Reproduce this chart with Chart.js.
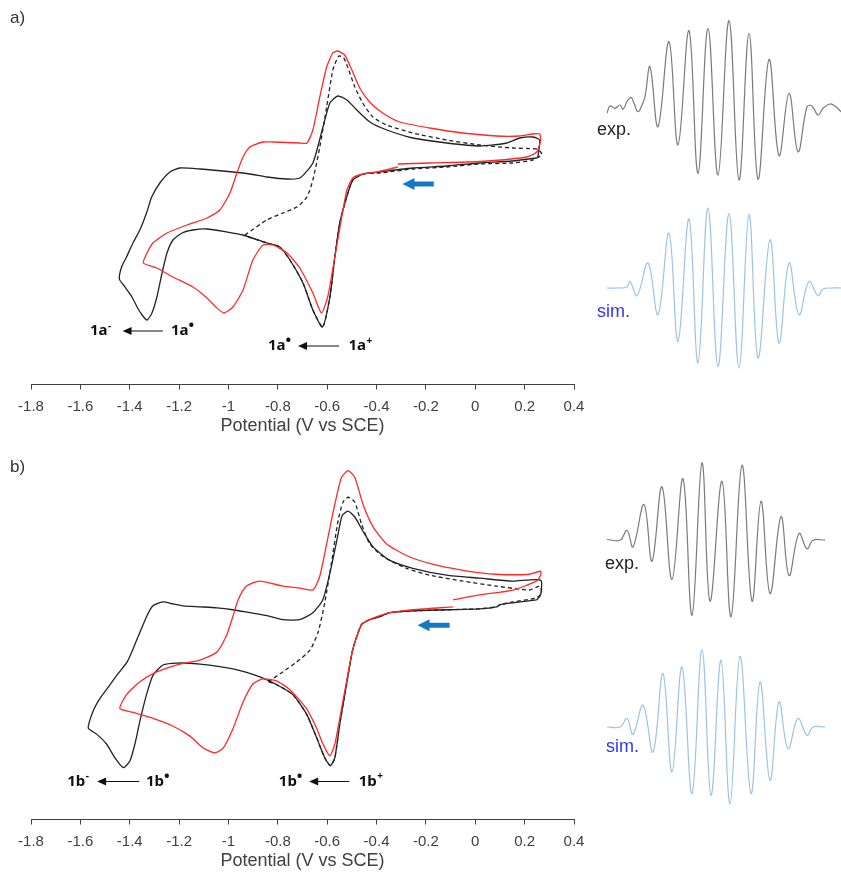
<!DOCTYPE html>
<html>
<head>
<meta charset="utf-8">
<script src="https://cdn.jsdelivr.net/npm/chart.js@4.4.1/dist/chart.umd.min.js"></script>
<style>
  body { margin: 0; background: #fff; }
  #wrap { position: relative; width: 841px; height: 873px; overflow: hidden; font-family: "Liberation Sans", Arial, sans-serif; }
  canvas, .lbl { position: absolute; }
  .lbl { line-height: 1; white-space: nowrap; }
  .panel { font-size: 17px; color: #333; }
  .exp { font-size: 18px; color: #222; }
  .sim { font-size: 18px; color: #3333ff; }
</style>
</head>
<body>
<div id="wrap">
  <canvas id="cvA" width="600" height="440" style="left:0;top:0"></canvas>
  <canvas id="cvB" width="600" height="435" style="left:0;top:440px"></canvas>
  <canvas id="expA" width="234" height="200" style="left:607px;top:12px"></canvas>
  <canvas id="simA" width="234" height="200" style="left:607px;top:188px"></canvas>
  <canvas id="expB" width="234" height="200" style="left:607px;top:440px"></canvas>
  <canvas id="simB" width="234" height="200" style="left:607px;top:627px"></canvas>
  <div class="lbl panel" style="left:10px;top:9px">a)</div>
  <div class="lbl panel" style="left:10px;top:458px">b)</div>
  <div class="lbl exp" style="left:597px;top:120px">exp.</div>
  <div class="lbl sim" style="left:597px;top:302px">sim.</div>
  <div class="lbl exp" style="left:605px;top:554px">exp.</div>
  <div class="lbl sim" style="left:606px;top:737px">sim.</div>
</div>
<script>
// potential in V vs SCE, current in arbitrary units (cathodic down)
const aSolidE = [0.249,0.151,0.018,-0.116,-0.253,-0.387,-0.455,-0.496,-0.521,-0.549,-0.569,-0.589,-0.619,-0.658,-0.698,-0.751,-0.792,-0.844,-0.941,-1.006,-1.087,-1.144,-1.188,-1.225,-1.249,-1.269,-1.290,-1.310,-1.330,-1.350,-1.370,-1.391,-1.419,-1.442,-1.433,-1.413,-1.387,-1.359,-1.332,-1.311,-1.278,-1.237,-1.197,-1.115,-0.982,-0.913,-0.844,-0.763,-0.711,-0.658,-0.617,-0.589,-0.557,-0.520,-0.480,-0.427,-0.358,-0.253,-0.116,0.018,0.128,0.180,0.233,0.261,0.253];
const aSolidI = [4.2,3.9,3.7,3.4,3.2,2.8,2.6,2.0,0.3,-2.3,-5.7,-9.7,-12.7,-11.0,-8.3,-6.0,-4.7,-4.3,-3.5,-3.2,-2.9,-3.0,-3.3,-4.0,-5.3,-7.3,-9.7,-11.3,-12.0,-11.5,-10.7,-9.7,-8.7,-7.9,-6.7,-5.7,-4.3,-3.0,-1.3,0.3,1.7,2.8,3.2,3.1,2.8,2.6,2.3,2.1,2.2,3.7,7.3,9.7,10.4,10.0,9.0,7.8,7.0,6.2,5.7,5.4,5.7,6.2,6.3,6.0,4.2];

const aRedE = [-0.314,-0.185,0.018,0.208,0.249,0.265,0.261,0.232,0.180,0.087,-0.051,-0.185,-0.306,-0.375,-0.428,-0.468,-0.500,-0.529,-0.557,-0.577,-0.602,-0.630,-0.658,-0.682,-0.711,-0.820,-0.860,-0.913,-0.941,-0.966,-0.994,-1.035,-1.087,-1.168,-1.249,-1.306,-1.330,-1.345,-1.290,-1.225,-1.144,-1.087,-1.047,-1.018,-0.982,-0.941,-0.901,-0.860,-0.820,-0.763,-0.711,-0.658,-0.623,-0.598,-0.569,-0.541,-0.520,-0.496,-0.456,-0.399,-0.314];
const aRedI = [3.6,3.7,3.85,4.3,4.8,6.0,6.6,6.6,6.4,6.4,6.7,7.2,7.8,8.7,9.8,11.2,13.0,14.5,14.9,14.7,13.3,10.3,7.0,5.7,5.7,5.8,5.8,5.3,4.3,2.7,0.7,-1.0,-1.8,-2.5,-3.3,-4.3,-5.3,-6.3,-6.8,-7.7,-8.7,-9.8,-10.8,-11.3,-10.7,-9.0,-6.0,-4.5,-4.5,-5.3,-6.8,-9.3,-11.3,-9.7,-5.7,-1.7,1.0,2.2,2.6,2.8,3.3];

const aDashE = [-0.933,-0.845,-0.780,-0.723,-0.682,-0.658,-0.630,-0.602,-0.577,-0.553,-0.533,-0.517,-0.488,-0.456,-0.415,-0.359,-0.253,-0.116,0.018,0.151,0.249,0.265,0.269,0.232,0.151,0.018,-0.116,-0.253,-0.387,-0.456,-0.496,-0.521,-0.549,-0.569,-0.589,-0.618,-0.658,-0.698,-0.751,-0.792,-0.844,-0.933];
const aDashI = [-3.5,-2.0,-1.3,-0.7,0.3,2.0,5.3,9.3,13.0,14.4,14.2,13.3,11.3,9.7,8.3,7.5,6.7,6.0,5.5,5.2,5.1,4.8,4.5,4.0,3.7,3.6,3.3,3.1,2.7,2.6,2.0,0.3,-2.3,-5.7,-9.7,-12.7,-11.0,-8.3,-6.0,-4.7,-4.3,-3.6];

const bSolidE = [0.249,0.151,0.099,0.087,0.018,-0.116,-0.253,-0.346,-0.387,-0.428,-0.461,-0.496,-0.522,-0.549,-0.569,-0.587,-0.610,-0.642,-0.683,-0.739,-0.804,-0.873,-0.982,-1.115,-1.210,-1.265,-1.305,-1.332,-1.359,-1.379,-1.399,-1.426,-1.460,-1.494,-1.534,-1.568,-1.549,-1.521,-1.480,-1.448,-1.411,-1.387,-1.359,-1.330,-1.306,-1.266,-1.225,-1.185,-1.115,-1.047,-0.982,-0.913,-0.844,-0.780,-0.711,-0.658,-0.618,-0.589,-0.561,-0.540,-0.516,-0.488,-0.456,-0.415,-0.346,-0.253,-0.116,0.018,0.151,0.265,0.265,0.249];
const bSolidI = [3.8,3.5,3.3,3.1,2.9,2.8,2.7,2.5,2.1,1.8,1.3,-1.2,-4.8,-8.8,-12.2,-13.0,-12.2,-10.2,-7.8,-5.8,-4.8,-4.0,-3.2,-2.7,-2.6,-2.8,-3.8,-5.8,-8.5,-10.8,-12.5,-13.2,-12.2,-10.8,-9.8,-9.2,-7.5,-6.2,-4.8,-3.7,-2.5,-1.2,0.5,2.2,3.2,3.6,3.4,3.2,3.1,3.0,2.8,2.5,2.2,1.8,1.8,2.5,3.8,6.5,9.8,12.3,12.8,12.2,10.8,9.2,7.8,7.0,6.3,6.0,5.7,5.8,4.3,3.8];

const bRedE = [-0.090,0.018,0.153,0.247,0.265,0.265,0.220,0.085,-0.050,-0.185,-0.279,-0.360,-0.414,-0.455,-0.488,-0.515,-0.542,-0.569,-0.602,-0.630,-0.658,-0.711,-0.780,-0.873,-0.927,-0.961,-0.981,-1.008,-1.048,-1.116,-1.197,-1.291,-1.359,-1.413,-1.440,-1.386,-1.305,-1.224,-1.156,-1.102,-1.055,-1.021,-0.981,-0.940,-0.900,-0.860,-0.806,-0.751,-0.684,-0.643,-0.617,-0.589,-0.569,-0.549,-0.522,-0.496,-0.461,-0.428,-0.387,-0.346,-0.253,-0.090];
const bRedI = [3.8,4.3,4.8,5.7,6.3,6.7,6.4,6.4,6.8,7.5,8.3,9.5,11.2,13.5,16.2,16.9,16.2,13.5,9.5,6.2,4.8,5.0,5.2,5.7,5.2,3.8,2.2,0.2,-1.5,-2.3,-2.7,-3.5,-4.5,-5.8,-7.2,-7.6,-8.2,-9.0,-10.0,-11.2,-11.7,-11.2,-9.2,-6.5,-4.7,-4.2,-4.4,-5.3,-7.2,-9.2,-10.8,-12.0,-10.8,-8.2,-4.5,-1.2,1.3,1.8,2.2,2.5,2.8,3.1];

const bDashE = [-0.839,-0.780,-0.724,-0.670,-0.637,-0.610,-0.583,-0.556,-0.536,-0.515,-0.488,-0.461,-0.428,-0.374,-0.279,-0.185,-0.050,0.085,0.220,0.261,0.269,0.247,0.153,0.099,0.087,0.018,-0.116,-0.253,-0.346,-0.387,-0.428,-0.461,-0.496,-0.522,-0.549,-0.569,-0.587,-0.610,-0.642,-0.683,-0.739,-0.804,-0.839];
const bDashI = [-4.5,-3.5,-2.5,-1.3,0.5,3.5,7.5,11.8,13.7,14.2,13.7,11.5,9.5,8.2,7.0,6.3,5.7,5.2,4.8,5.2,4.5,4.0,3.6,3.3,3.1,2.9,2.8,2.7,2.5,2.1,1.8,1.3,-1.2,-4.8,-8.8,-12.2,-13.0,-12.2,-10.2,-7.8,-5.8,-4.8,-4.5];

// EPR: field offset (G) and intensity (a.u.)
const expAField = [0,0.3,0.8,1.3,1.6,2.0,2.4,2.7,3.1,3.5,3.8,4.3,5.1,6.2,7.1,8.2,9.1,10.1,11.1,12.2,13.2,14.2,15.1,16.2,17.2,18.2,19.1,20.0,20.5,21.1,21.6,22.3,22.8,23.4];
const expAInt = [-1.3,6,3.7,7,2.7,10.3,14.7,8.7,0.3,7,15.3,45.3,-14.7,70.3,-33,81.3,-61.3,83.7,-63,91.3,-68,78.7,-67.3,52.7,-43.7,18.7,-39.7,5.3,6,-3,3.7,8,6,0.3];
const simAField = [0,1.0,2.0,2.3,3.0,4.1,5.1,6.2,7.1,8.2,9.1,10.1,11.1,12.2,13.2,14.2,15.1,16.3,17.2,18.2,19.2,20.2,21.1,21.6,22.5,23.4];
const simAInt = [0,0,1,6.6,-7.7,25,-26.7,55,-53.4,69,-75,80,-78.4,74.3,-80,73.3,-70,48.3,-55,25,-26.7,6.6,-7.7,-1,0,0];
const expBField = [0,1.3,2.0,2.6,3.7,4.5,5.5,6.5,7.6,8.5,9.5,10.3,11.5,12.4,13.5,14.5,15.4,16.3,17.4,18.2,19.2,20.0,20.6,21.8];
const expBInt = [0.5,-0.2,9.5,-6.8,35.5,-21.2,53.2,-39.5,61.2,-75.2,77.2,-61.2,58.8,-76.8,74.8,-61.2,38.8,-53.5,23.2,-35.5,6.5,-8.8,-0.2,-0.2];
const simBField = [0,1.3,2.0,2.6,3.6,4.6,5.6,6.5,7.5,8.5,9.5,10.4,11.4,12.3,13.3,14.4,15.3,16.3,17.2,18.1,19.1,20.0,20.6,21.8];
const simBInt = [0,0,8.4,-7.3,21.7,-25,53.4,-45,60,-66.6,77.4,-68.3,66.7,-76.6,70.7,-66.6,45,-53.3,25,-21.6,8.4,-8.3,0,0];

const potTicks = [-1.8,-1.6,-1.4,-1.2,-1,-0.8,-0.6,-0.4,-0.2,0,0.2,0.4];

// annotations (potential, current)
const notesA = {
  labels: [
    {t:'1a', s:'-', E:-1.561, i:-13.1},
    {t:'1a', s:'•', E:-1.233, i:-13.1},
    {t:'1a', s:'•', E:-0.840, i:-14.6},
    {t:'1a', s:'+', E:-0.514, i:-14.6}
  ],
  arrows: [ {from:-1.265, to:-1.429, i:-13.1}, {from:-0.552, to:-0.718, i:-14.6} ],
  blue: {from:-0.168, to:-0.295, i:1.6}
};
const notesB = {
  labels: [
    {t:'1b', s:'-', E:-1.653, i:-14.6},
    {t:'1b', s:'•', E:-1.334, i:-14.6},
    {t:'1b', s:'•', E:-0.796, i:-14.6},
    {t:'1b', s:'+', E:-0.472, i:-14.6}
  ],
  arrows: [ {from:-1.362, to:-1.532, i:-14.6}, {from:-0.511, to:-0.673, i:-14.6} ],
  blue: {from:-0.104, to:-0.234, i:1.23}
};

function zip(xs, ys) {
  const n = Math.min(xs.length, ys.length);
  const out = [];
  for (let k = 0; k < n; k++) out.push({x: xs[k], y: ys[k]});
  return out;
}

const cvNotes = {
  id: 'cvNotes',
  afterDatasetsDraw(chart, args, opts) {
    const ctx = chart.ctx, x = chart.scales.x, y = chart.scales.y;
    ctx.save();
    ctx.fillStyle = '#111';
    ctx.strokeStyle = '#111';
    ctx.textBaseline = 'middle';
    opts.labels.forEach(l => {
      const px = x.getPixelForValue(l.E), py = y.getPixelForValue(l.i);
      ctx.font = 'bold 15px "Noto Sans", sans-serif';
      ctx.fillText(l.t, px, py);
      const w = ctx.measureText(l.t).width;
      if (l.s === '•') {
        ctx.font = 'bold 15px "Noto Sans", sans-serif';
        ctx.fillText(l.s, px + w, py - 5);
      } else {
        ctx.font = 'bold 10px "Noto Sans", sans-serif';
        ctx.fillText(l.s, px + w + 0.5, py - 5);
      }
    });
    opts.arrows.forEach(a => {
      const x1 = x.getPixelForValue(a.from), x2 = x.getPixelForValue(a.to), py = y.getPixelForValue(a.i);
      const dir = x1 > x2 ? 1 : -1;
      ctx.lineWidth = 1.2;
      ctx.beginPath();
      ctx.moveTo(x1, py);
      ctx.lineTo(x2 + dir * 6, py);
      ctx.stroke();
      ctx.beginPath();
      ctx.moveTo(x2, py);
      ctx.lineTo(x2 + dir * 9, py - 4);
      ctx.lineTo(x2 + dir * 9, py + 4);
      ctx.closePath();
      ctx.fill();
    });
    const b = opts.blue;
    const bx1 = x.getPixelForValue(b.from), bx2 = x.getPixelForValue(b.to), by = y.getPixelForValue(b.i);
    ctx.fillStyle = '#1479c4';
    ctx.beginPath();
    ctx.moveTo(bx1, by - 2.5);
    ctx.lineTo(bx2 + 12, by - 2.5);
    ctx.lineTo(bx2 + 12, by - 6);
    ctx.lineTo(bx2, by);
    ctx.lineTo(bx2 + 12, by + 6);
    ctx.lineTo(bx2 + 12, by + 2.5);
    ctx.lineTo(bx1, by + 2.5);
    ctx.closePath();
    ctx.fill();
    ctx.restore();
  }
};

function line(data, color, dash) {
  return {
    data: data, showLine: true, fill: false,
    borderColor: color, borderWidth: 1.3, borderDash: dash || [],
    pointRadius: 0, tension: 0.2
  };
}

function cvChart(id, sets, notes) {
  return new Chart(document.getElementById(id), {
    type: 'scatter',
    data: { datasets: sets },
    options: {
      responsive: false,
      animation: false,
      layout: { padding: { left: 31, right: 26, top: 0, bottom: 2.7 } },
      plugins: { legend: { display: false }, tooltip: { enabled: false }, cvNotes: notes },
      scales: {
        x: {
          type: 'linear', min: -1.8, max: 0.4,
          afterBuildTicks: s => { s.ticks = potTicks.map(v => ({ value: v })); },
          ticks: {
            color: '#404040', padding: 8.5,
            font: { family: '"Liberation Sans", Arial, sans-serif', size: 15 },
            callback: v => String(Math.round(v * 10) / 10)
          },
          grid: { drawOnChartArea: false, drawTicks: true, tickLength: 5, color: '#404040' },
          border: { color: '#404040', width: 1 },
          title: {
            display: true, text: 'Potential (V vs SCE)', color: '#404040',
            font: { family: '"Liberation Sans", Arial, sans-serif', size: 18 },
            padding: { top: -8.8, bottom: 0 }
          }
        },
        y: { display: false, min: -18.45, max: 20 }
      }
    },
    plugins: [cvNotes]
  });
}

function eprChart(id, field, inten, color) {
  return new Chart(document.getElementById(id), {
    type: 'scatter',
    data: { datasets: [{
      data: zip(field, inten), showLine: true, fill: false,
      borderColor: color, borderWidth: 1.2, pointRadius: 0, tension: 0.4
    }] },
    options: {
      responsive: false,
      animation: false,
      layout: { padding: 0 },
      plugins: { legend: { display: false }, tooltip: { enabled: false } },
      scales: {
        x: { display: false, min: 0, max: 23.4 },
        y: { display: false, min: -100, max: 100 }
      }
    }
  });
}

cvChart('cvA', [
  line(zip(aRedE, aRedI), '#ff2a2a'),
  line(zip(aDashE, aDashI), '#222', [4, 3]),
  line(zip(aSolidE, aSolidI), '#222')
], notesA);

cvChart('cvB', [
  line(zip(bRedE, bRedI), '#ff2a2a'),
  line(zip(bDashE, bDashI), '#222', [4, 3]),
  line(zip(bSolidE, bSolidI), '#222')
], notesB);

eprChart('expA', expAField, expAInt, '#7a7a7a');
eprChart('simA', simAField, simAInt, '#9cc3e6');
eprChart('expB', expBField, expBInt, '#7a7a7a');
eprChart('simB', simBField, simBInt, '#9cc3e6');
</script>
</body>
</html>
